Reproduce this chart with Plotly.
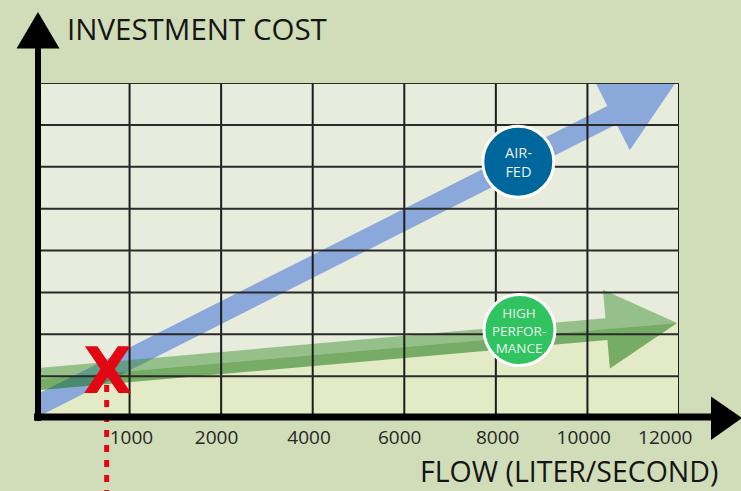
import numpy as np
import plotly.graph_objects as go

# ---------------- data ----------------
tick_pos = [1.02, 1.95, 2.96, 3.95, 5.02, 5.96, 6.85]
tick_labels = ["1000", "2000", "4000", "6000", "8000", "10000", "12000"]

# arrow centre lines (start, tip) in axis units
airfed_x = [-0.3, 6.96]
airfed_y = [-0.03, 8.0]
highperf_x = [-0.3, 6.98]
highperf_y = [0.87, 2.27]

# circle labels
label_text = ["AIR-<br>FED", "HIGH<br>PERFOR-<br>MANCE"]
label_x = [5.245, 5.258]
label_y = [6.12, 2.10]
label_color = ["#00679c", "#2fc45f"]
label_size = [14.5, 13.5]

# selected operating point
marker_x = 0.75
marker_y = 1.15

x_title = "FLOW (LITER/SECOND)"
y_title = "INVESTMENT COST"

# ---------------- layout geometry ----------------
W, H = 741, 491
ML, MR, MT, MB = 38, 62, 83, 73
PW, PH = W - ML - MR, H - MT - MB
X_MAX, Y_MAX = 7, 8
KX, KY = PW / X_MAX, PH / Y_MAX
FONT = "Open Sans"


def px_to_paper(px, py):
    return (px - ML) / PW, (H - MB - py) / PH


def arrow(xs, ys, band_w, head_w, head_len):
    p0 = np.array([xs[0] * KX, ys[0] * KY])
    p1 = np.array([xs[1] * KX, ys[1] * KY])
    d = (p1 - p0) / np.linalg.norm(p1 - p0)
    n = np.array([-d[1], d[0]])
    b = p1 - d * head_len
    hb, hh = band_w / 2, head_w / 2
    upper = [p0 + n * hb, b + n * hb, b + n * hh, p1, b, p0]
    lower = [p0, b, p1, b - n * hh, b - n * hb, p0 - n * hb]
    full = [p0 + n * hb, b + n * hb, b + n * hh, p1, b - n * hh, b - n * hb, p0 - n * hb]

    def conv(pts):
        pts = pts + [pts[0]]
        return [p[0] / KX for p in pts], [p[1] / KY for p in pts]

    return conv(upper), conv(lower), conv(full)


fig = go.Figure()

# light area under the high-performance line
fig.add_trace(go.Scatter(x=highperf_x, y=highperf_y, mode="lines", fill="tozeroy",
                         fillcolor="#e2ebc6", line=dict(width=0), hoverinfo="skip"))

# air-fed arrow (blue)
_, _, (bx, by) = arrow(airfed_x, airfed_y, 20.5, 79, 71)
fig.add_trace(go.Scatter(x=bx, y=by, mode="lines", fill="toself",
                         fillcolor="rgb(139,168,218)", line=dict(width=0), hoverinfo="skip"))

# high-performance arrow (green, two tones)
(ux, uy), (lx, ly), _ = arrow(highperf_x, highperf_y, 22, 79, 71)
fig.add_trace(go.Scatter(x=ux, y=uy, mode="lines", fill="toself",
                         fillcolor="rgba(60,145,45,0.48)", line=dict(width=0), hoverinfo="skip"))
fig.add_trace(go.Scatter(x=lx, y=ly, mode="lines", fill="toself",
                         fillcolor="rgba(10,110,5,0.5)", line=dict(width=0), hoverinfo="skip"))

shapes = []
# grid drawn above the arrows
for i in range(1, X_MAX + 1):
    shapes.append(dict(type="line", xref="x", yref="y", x0=i, x1=i, y0=0, y1=Y_MAX,
                       line=dict(color="#1c1c1c", width=2), layer="above"))
for j in range(1, Y_MAX + 1):
    shapes.append(dict(type="line", xref="x", yref="y", x0=0, x1=X_MAX, y0=j, y1=j,
                       line=dict(color="#2a2a2a", width=2), layer="above"))

# label circles
for cx, cy, col in zip(label_x, label_y, label_color):
    shapes.append(dict(type="circle", xref="x", yref="y", xsizemode="pixel", ysizemode="pixel",
                       xanchor=cx, yanchor=cy, x0=-35.5, x1=35.5, y0=-35.5, y1=35.5,
                       fillcolor=col, line=dict(color="white", width=3), layer="above"))

# red dotted line from the marker down
mx_p = marker_x / X_MAX
shapes.append(dict(type="line", xref="paper", yref="paper", x0=mx_p, x1=mx_p,
                   y0=(marker_y - 0.36) / Y_MAX, y1=-MB / PH,
                   line=dict(color="#e30613", width=5, dash="7px,8px"), layer="above"))

# axes with arrow heads
ax0, ay0 = px_to_paper(38, 45)
ax1, ay1 = px_to_paper(38, 421)
shapes.append(dict(type="line", xref="paper", yref="paper", x0=ax0, x1=ax1, y0=ay0, y1=ay1,
                   line=dict(color="black", width=6), layer="above"))
bx0, by0 = px_to_paper(34, 417)
bx1, by1 = px_to_paper(716, 417)
shapes.append(dict(type="line", xref="paper", yref="paper", x0=bx0, x1=bx1, y0=by0, y1=by1,
                   line=dict(color="black", width=7), layer="above"))


def tri(pts):
    pp = [px_to_paper(*p) for p in pts]
    return "M {} {} L {} {} L {} {} Z".format(*[v for p in pp for v in p])


shapes.append(dict(type="path", xref="paper", yref="paper", path=tri([(38, 12), (16.5, 48.5), (59.5, 48.5)]),
                   fillcolor="black", line=dict(width=0), layer="above"))
shapes.append(dict(type="path", xref="paper", yref="paper", path=tri([(711, 396.5), (711, 440), (742, 418)]),
                   fillcolor="black", line=dict(width=0), layer="above"))

annotations = []
for t, cx, cy, fs in zip(label_text, label_x, label_y, label_size):
    annotations.append(dict(x=cx, y=cy, xref="x", yref="y", text=t, showarrow=False,
                            font=dict(family=FONT, size=fs, color="#eaf1ee"), align="center"))

annotations.append(dict(x=marker_x, y=marker_y, xref="x", yref="y", text="<b>X</b>", showarrow=False,
                        font=dict(family="DejaVu Sans", size=64, color="#e30613"), yshift=-1, xshift=1))

tx, ty = px_to_paper(65, 29)
annotations.append(dict(x=tx, y=ty, xref="paper", yref="paper", text=y_title, showarrow=False,
                        xanchor="left", yanchor="middle", font=dict(family=FONT, size=29.5, color="#151515")))
fx, fy = px_to_paper(720, 471)
annotations.append(dict(x=fx, y=fy, xref="paper", yref="paper", text=x_title, showarrow=False,
                        xanchor="right", yanchor="middle",
                        font=dict(family=FONT, size=28.5, color="#151515")))

fig.update_layout(
    width=W, height=H,
    margin=dict(l=ML, r=MR, t=MT, b=MB, pad=0),
    paper_bgcolor="#d1ddb9",
    plot_bgcolor="#e8ecdc",
    showlegend=False,
    shapes=shapes,
    annotations=annotations,
    xaxis=dict(range=[0, X_MAX], showgrid=False, zeroline=False, showline=False,
               tickmode="array", tickvals=tick_pos, ticktext=tick_labels,
               ticks="", ticklabelstandoff=6,
               tickfont=dict(family=FONT, size=19, color="#262626"), fixedrange=True),
    yaxis=dict(range=[0, Y_MAX], showgrid=False, zeroline=False, showline=False,
               showticklabels=False, ticks="", fixedrange=True),
)

fig.write_html("out.html", config={"displayModeBar": False},
               post_script="document.body.style.margin='0px';document.body.style.overflow='hidden';")
